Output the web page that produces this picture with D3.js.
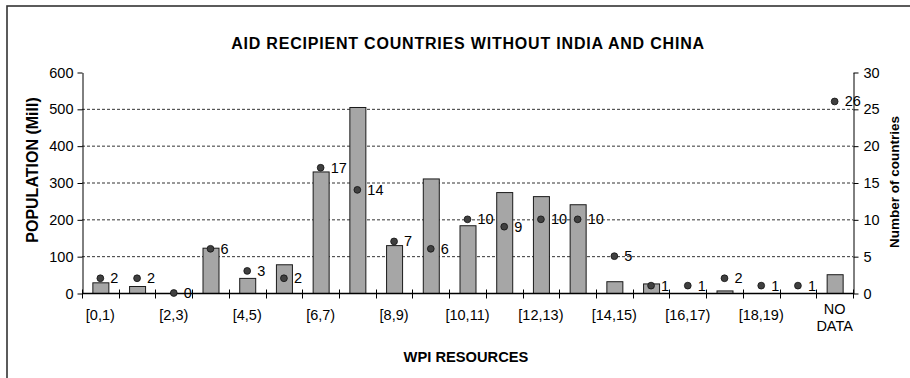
<!DOCTYPE html>
<html>
<head>
<meta charset="utf-8">
<script src="https://cdn.jsdelivr.net/npm/d3@7/dist/d3.min.js"></script>
<style>
  html, body { margin: 0; padding: 0; background: #fff; }
  svg { display: block; font-family: "Liberation Sans", Arial, sans-serif; }
</style>
</head>
<body>
<svg id="chart" width="910" height="378"></svg>
<script>
// WPI resource bands
const categories = ["[0,1)", "[1,2)", "[2,3)", "[3,4)", "[4,5)", "[5,6)", "[6,7)", "[7,8)",
  "[8,9)", "[9,10)", "[10,11)", "[11,12)", "[12,13)", "[13,14)", "[14,15)", "[15,16)",
  "[16,17)", "[17,18)", "[18,19)", "[19,20)", "NO DATA"];
// Population per band, millions (bars, left axis)
const population = [29, 19, 0, 123, 41, 78, 330, 505, 130, 311, 184, 274, 263, 241, 32, 26, 0, 7, 0, 0, 51];
// Number of countries per band (points, right axis)
const countries = [2, 2, 0, 6, 3, 2, 17, 14, 7, 6, 10, 9, 10, 10, 5, 1, 1, 2, 1, 1, 26];
// Axis ticks
const popTicks = [0, 100, 200, 300, 400, 500, 600];
const countTicks = [0, 5, 10, 15, 20, 25, 30];
// Only every second band is labelled on the category axis
const shownLabels = ["[0,1)", "[2,3)", "[4,5)", "[6,7)", "[8,9)", "[10,11)", "[12,13)",
  "[14,15)", "[16,17)", "[18,19)", "NO DATA"];

const svg = d3.select("#chart");
const plotL = 82, plotR = 853, plotT = 72, plotB = 293;
const FONT = "\"Liberation Sans\", Arial, sans-serif";

const x = d3.scaleBand().domain(categories).range([plotL, plotR]).padding(0);
const yPop = d3.scaleLinear().domain([0, 600]).range([plotB, plotT]);
const yCnt = d3.scaleLinear().domain([0, 30]).range([plotB, plotT]);

// Outer frame
svg.append("rect")
  .attr("x", 7).attr("y", 6).attr("width", 920).attr("height", 400)
  .attr("fill", "none").attr("stroke", "#333").attr("stroke-width", 1.6);

// Title
svg.append("text")
  .attr("x", 468).attr("y", 49)
  .attr("text-anchor", "middle")
  .attr("font-size", 16).attr("font-weight", "bold")
  .attr("letter-spacing", 0.8)
  .text("AID RECIPIENT COUNTRIES WITHOUT INDIA AND CHINA");

// Dashed gridlines
svg.append("g")
  .selectAll("line")
  .data(popTicks.filter(d => d > 0 && d < 600))
  .join("line")
  .attr("x1", plotL).attr("x2", plotR)
  .attr("y1", d => yPop(d) + 0.5).attr("y2", d => yPop(d) + 0.5)
  .attr("stroke", "#333").attr("stroke-dasharray", "3,2").attr("stroke-width", 1);

// Population bars
const bw = 16;
svg.append("g")
  .selectAll("rect")
  .data(categories.map((c, i) => ({ c, v: population[i] })).filter(d => d.v > 0))
  .join("rect")
  .attr("x", d => x(d.c) + x.bandwidth() / 2 - bw / 2 + 0.5)
  .attr("y", d => yPop(d.v) + 0.5)
  .attr("width", bw)
  .attr("height", d => yPop(0) - yPop(d.v))
  .attr("fill", "#a6a6a6")
  .attr("stroke", "#1a1a1a").attr("stroke-width", 1);

// Left axis
const leftAxis = svg.append("g")
  .attr("transform", `translate(${plotL + 0.5},0.5)`)
  .call(d3.axisLeft(yPop).tickValues(popTicks).tickSize(5).tickPadding(4).tickSizeOuter(0));
// Right axis
const rightAxis = svg.append("g")
  .attr("transform", `translate(${plotR + 0.5},0.5)`)
  .call(d3.axisRight(yCnt).tickValues(countTicks).tickSize(5).tickPadding(5).tickSizeOuter(0));
[leftAxis, rightAxis].forEach(g => {
  g.selectAll("path.domain").attr("stroke", "#000");
  g.selectAll(".tick line").attr("stroke", "#000");
  g.selectAll("text").attr("font-size", 14.5).attr("fill", "#000").attr("font-family", FONT);
});

// Category axis: tick marks on band boundaries, crossing the axis line
const xAxis = svg.append("g").attr("transform", `translate(0,${plotB + 0.5})`);
xAxis.append("line")
  .attr("x1", plotL).attr("x2", plotR + 1)
  .attr("stroke", "#000").attr("stroke-width", 1.5);
xAxis.selectAll("line.tick")
  .data(d3.range(categories.length + 1))
  .join("line").attr("class", "tick")
  .attr("x1", i => Math.round(plotL + i * x.step()) + 0.5)
  .attr("x2", i => Math.round(plotL + i * x.step()) + 0.5)
  .attr("y1", -4).attr("y2", 5)
  .attr("stroke", "#000");
xAxis.selectAll("text.lab")
  .data(shownLabels)
  .join("text").attr("class", "lab")
  .attr("x", d => x(d) + x.bandwidth() / 2)
  .attr("y", d => d === "NO DATA" ? 20 : 26)
  .attr("text-anchor", "middle")
  .attr("font-size", 14.5)
  .each(function (d) {
    const t = d3.select(this);
    const parts = d === "NO DATA" ? ["NO", "DATA"] : [d];
    parts.forEach((p, k) => t.append("tspan")
      .attr("x", x(d) + x.bandwidth() / 2)
      .attr("dy", k === 0 ? 0 : 17)
      .text(p));
  });

// Country count points with value labels
const pts = svg.append("g")
  .selectAll("g")
  .data(categories.map((c, i) => ({ c, v: countries[i] })))
  .join("g")
  .attr("transform", d => `translate(${x(d.c) + x.bandwidth() / 2},${yCnt(d.v)})`);
pts.append("circle").attr("r", 3.4).attr("fill", "#404040").attr("stroke", "#111").attr("stroke-width", 0.8);
pts.append("text")
  .attr("x", 10).attr("y", 5)
  .attr("font-size", 14.5)
  .text(d => d.v);

// Axis titles
svg.append("text")
  .attr("transform", "translate(38,170) rotate(-90)")
  .attr("text-anchor", "middle")
  .attr("font-size", 16).attr("font-weight", "bold")
  .text("POPULATION (Mill)");
svg.append("text")
  .attr("transform", "translate(899,182) rotate(-90)")
  .attr("text-anchor", "middle")
  .attr("font-size", 13.5).attr("font-weight", "bold")
  .text("Number of countries");
svg.append("text")
  .attr("x", 466).attr("y", 362)
  .attr("text-anchor", "middle")
  .attr("font-size", 14.7).attr("font-weight", "bold")
  .text("WPI RESOURCES");
</script>
</body>
</html>
